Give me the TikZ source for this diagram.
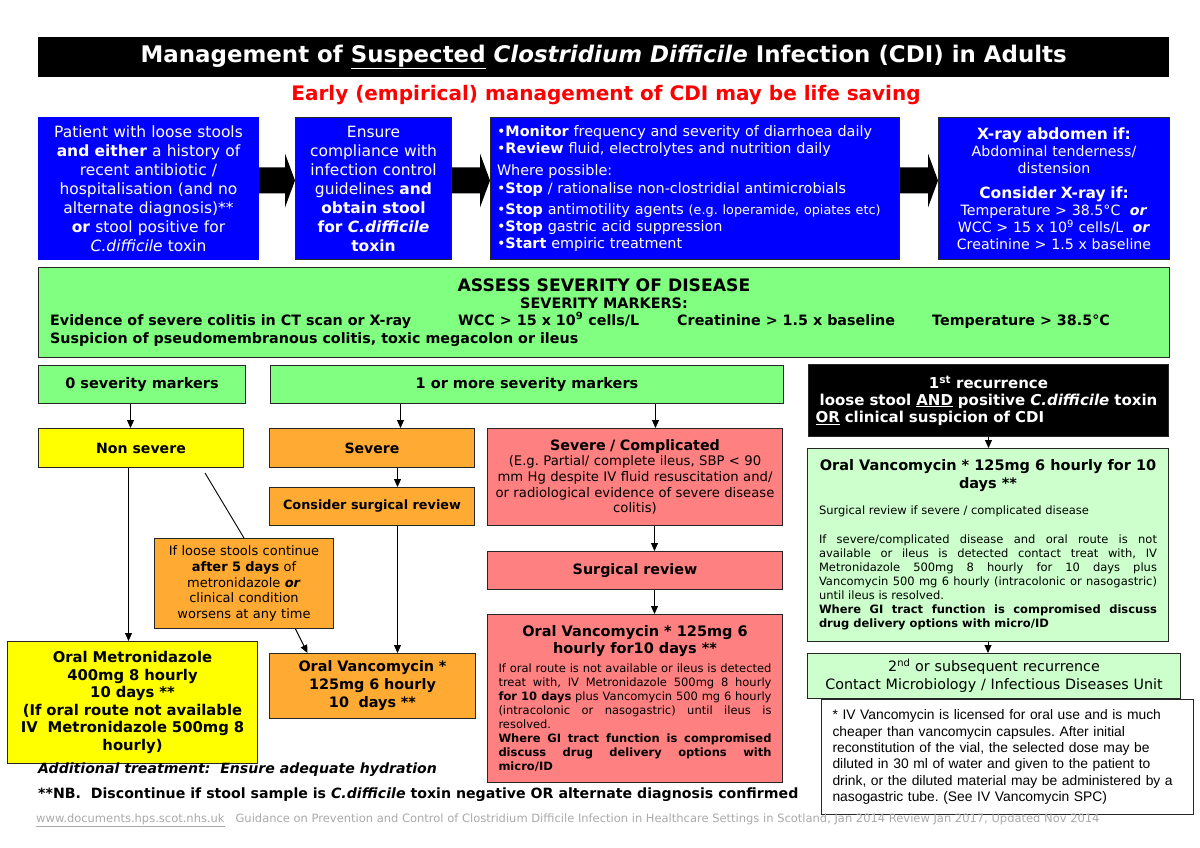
\documentclass[tikz,border=0pt]{standalone}
\usepackage{fontspec}
\setmainfont{DejaVu Sans}
\newfontfamily\arialfont{Liberation Sans}
\usetikzlibrary{arrows.meta}
\definecolor{cdiblue}{RGB}{0,0,255}
\definecolor{cdigreen}{RGB}{128,255,128}
\definecolor{cdipale}{RGB}{204,255,204}
\definecolor{cdiyellow}{RGB}{255,255,0}
\definecolor{cdiorange}{RGB}{255,170,51}
\definecolor{cdipink}{RGB}{255,128,128}
\definecolor{cdired}{RGB}{255,0,0}
\definecolor{cdigrey}{RGB}{170,170,170}
\newcommand\sz[2]{\fontsize{#1}{#2}\selectfont}
\setlength\parindent{0pt}
\frenchspacing

\begin{document}
\begin{tikzpicture}[x=1pt,y=-1pt,
  box/.style={draw=black!85, line width=1pt, anchor=north west, inner sep=0pt, align=center},
  arr/.style={-{Triangle[length=8pt,width=7pt]}, line width=0.9pt},
  fat/.style={fill=black}]
  \useasboundingbox[fill=white] (0,0) rectangle (1200,848);

  \node[fill=black, anchor=north west, minimum width=1131, minimum height=40, inner sep=0pt,
    text=white, font=\sz{22.9}{26}\bfseries] (title) at (38,37)
    {Management of \underline{Suspected} \textit{Clostridium Difficile} Infection (CDI) in Adults};
  \node[text=cdired, font=\sz{20}{24}\bfseries] (early) at (606,95)
    {Early (empirical) management of CDI may be life saving};

  \node[box, draw=cdiblue, fill=cdiblue, text=white, minimum width=220, minimum height=142,
    text width=212, font=\sz{15.5}{19}] (patient) at (38,117)
    {Patient with loose stools\\ \textbf{and either} a history of\\ recent antibiotic /\\
     hospitalisation (and no\\ alternate diagnosis)**\\ \textbf{or} stool positive for\\
     \textit{C.difficile} toxin};
  \node[box, fill=cdiblue, text=white, minimum width=156, minimum height=142,
    text width=150, font=\sz{15.5}{19}] (ensure) at (295,117)
    {Ensure\\ compliance with\\ infection control\\ guidelines \textbf{and}\\
     \textbf{obtain stool}\\ \textbf{for \textit{C.difficile}}\\ \textbf{toxin}};
  \node[box, fill=cdiblue, text=white, minimum width=409, minimum height=142,
    text width=396, align=left, font=\sz{14.4}{17}] (monitor) at (490,117)
    {•\textbf{Monitor} frequency and severity of diarrhoea daily\\
     •\textbf{Review} fluid, electrolytes and nutrition daily\\[5pt]
     Where possible:\\[1pt]
     •\textbf{Stop} / rationalise non-clostridial antimicrobials\\[4pt]
     •\textbf{Stop} antimotility agents {\sz{12.8}{17}(e.g. loperamide, opiates etc)}\\
     •\textbf{Stop} gastric acid suppression\\
     •\textbf{Start} empiric treatment};
  \node[box, fill=cdiblue, text=white, minimum width=231, minimum height=142,
    text width=225, font=\sz{14.2}{17}] (xray) at (938,117)
    {{\sz{15.5}{17}\bfseries X-ray abdomen if:}\\ Abdominal tenderness/\\ distension\\[8pt]
     {\sz{15.5}{17}\bfseries Consider X-ray if:}\\ Temperature > 38.5°C\ \ \textbf{\textit{or}}\\
     WCC > 15 x 10\textsuperscript{9} cells/L\ \ \textbf{\textit{or}}\\ Creatinine > 1.5 x baseline};
  \fill[fat] ([yshift=21]patient.east) -- ([xshift=-10,yshift=21]ensure.west)
    -- ([xshift=-10,yshift=35]ensure.west) -- ([yshift=8]ensure.west)
    -- ([xshift=-10,yshift=-19]ensure.west) -- ([xshift=-10,yshift=-5]ensure.west)
    -- ([yshift=-5]patient.east) -- cycle;
  \fill[fat] ([yshift=21]ensure.east) -- ([xshift=-10,yshift=21]monitor.west)
    -- ([xshift=-10,yshift=35]monitor.west) -- ([yshift=8]monitor.west)
    -- ([xshift=-10,yshift=-19]monitor.west) -- ([xshift=-10,yshift=-5]monitor.west)
    -- ([yshift=-5]ensure.east) -- cycle;
  \fill[fat] ([yshift=21]monitor.east) -- ([xshift=-10,yshift=21]xray.west)
    -- ([xshift=-10,yshift=35]xray.west) -- ([yshift=8]xray.west)
    -- ([xshift=-10,yshift=-19]xray.west) -- ([xshift=-10,yshift=-5]xray.west)
    -- ([yshift=-5]monitor.east) -- cycle;

  \node[box, fill=cdigreen, minimum width=1131, minimum height=90] (assess) at (38,267) {};
  \node[font=\sz{17.2}{19}\bfseries] (assesstitle) at (604,285) {ASSESS SEVERITY OF DISEASE};
  \node[font=\sz{14.4}{17}\bfseries] (markers) at (604,303) {SEVERITY MARKERS:};
  \node[anchor=base west, inner sep=0pt, font=\sz{14.3}{17}\bfseries] (colitis) at (50,325)
    {Evidence of severe colitis in CT scan or X-ray};
  \node[anchor=base west, inner sep=0pt, font=\sz{14.3}{17}\bfseries] (wcc) at (458,325)
    {WCC > 15 x 10\textsuperscript{9} cells/L};
  \node[anchor=base west, inner sep=0pt, font=\sz{14.3}{17}\bfseries] (creat) at (677,325)
    {Creatinine > 1.5 x baseline};
  \node[anchor=base west, inner sep=0pt, font=\sz{14.3}{17}\bfseries] (temp) at (932,325)
    {Temperature > 38.5°C};
  \node[anchor=base west, inner sep=0pt, font=\sz{14.3}{17}\bfseries] (susp) at (50,343)
    {Suspicion of pseudomembranous colitis, toxic megacolon or ileus};

  \node[box, fill=cdigreen, minimum width=207, minimum height=38, font=\sz{14.5}{17}\bfseries]
    (zero) at (38,365) {0 severity markers};
  \node[box, fill=cdigreen, minimum width=513, minimum height=38, font=\sz{14.5}{17}\bfseries]
    (one) at (270,365) {1 or more severity markers};
  \node[box, fill=black, text=white, minimum width=360, minimum height=72, text width=346,
    align=left, font=\sz{15}{17}\bfseries] (recur1) at (808,364)
    {\hfill 1\textsuperscript{st} recurrence\hfill\null\\
     \hfill loose stool \underline{AND} positive \textit{C.difficile} toxin\hfill\null\\
     \underline{OR} clinical suspicion of CDI};

  \node[box, fill=cdiyellow, minimum width=205, minimum height=39, font=\sz{14.1}{18}\bfseries]
    (nonsev) at (38,428) {Non severe};
  \node[box, fill=cdiorange, minimum width=205, minimum height=39, font=\sz{14.1}{18}\bfseries]
    (sev) at (269,428) {Severe};
  \node[box, fill=cdipink, minimum width=295, minimum height=97, text width=285,
    font=\sz{13.2}{15.7}] (sevcomp) at (487,428)
    {{\sz{14.3}{17}\bfseries Severe / Complicated}\\ (E.g. Partial/ complete ileus, SBP < 90\\
     mm Hg despite IV fluid resuscitation and/\\ or radiological evidence of severe disease\\ colitis)};
  \node[box, fill=cdiorange, minimum width=205, minimum height=38, font=\sz{12.8}{17}\bfseries]
    (consider) at (269,487) {Consider surgical review};
  \node[box, fill=cdiorange, minimum width=179, minimum height=90, text width=173,
    font=\sz{13}{15.7}] (ifloose) at (154,538)
    {If loose stools continue\\ \textbf{after 5 days} of\\ metronidazole \textbf{\textit{or}}\\
     clinical condition\\ worsens at any time};
  \node[box, fill=cdipink, minimum width=295, minimum height=38, font=\sz{14.3}{18}\bfseries]
    (surg) at (487,551) {Surgical review};

  \node[box, fill=cdiyellow, minimum width=250, minimum height=122, text width=244,
    font=\sz{14.8}{17.6}\bfseries] (metro) at (7,641)
    {Oral Metronidazole\\ 400mg 8 hourly\\ 10 days **\\ (If oral route not available\\
     IV\ \ Metronidazole 500mg 8\\ hourly)};
  \node[box, fill=cdiorange, minimum width=206, minimum height=65, text width=200,
    font=\sz{14.4}{18}\bfseries] (vancoo) at (269,653)
    {Oral Vancomycin *\\ 125mg 6 hourly\\ 10\ \ days **};
  \node[box, fill=cdipink, minimum width=295, minimum height=168, text width=273,
    align=justify, font=\sz{11.5}{14}] (vancop) at (487,614)
    {{\centering\sz{14.5}{17}\bfseries Oral Vancomycin * 125mg 6\\ hourly for10 days **\par}
     \vspace{5pt}
     If oral route is not available or ileus is detected\linebreak
     treat with, IV Metronidazole 500mg 8 hourly\linebreak
     \textbf{for 10 days} plus Vancomycin 500 mg 6 hourly\linebreak
     (intracolonic or nasogastric) until ileus is\linebreak
     resolved.\par
     \textbf{Where GI tract function is compromised\linebreak
     discuss drug delivery options with\linebreak micro/ID}};

  \node[box, fill=cdipale, minimum width=361, minimum height=193, text width=338,
    align=justify, font=\sz{11.5}{14}] (vancog) at (807,448)
    {{\centering\sz{14.5}{18}\bfseries Oral Vancomycin * 125mg 6 hourly for 10\\ days **\par}
     \vspace{12pt}
     Surgical review if severe / complicated disease\par
     \vspace{15pt}
     If severe/complicated disease and oral route is not\linebreak
     available or ileus is detected contact treat with, IV\linebreak
     Metronidazole 500mg 8 hourly for 10 days plus\linebreak
     Vancomycin 500 mg 6 hourly (intracolonic or nasogastric)\linebreak
     until ileus is resolved.\par
     \textbf{Where GI tract function is compromised discuss\linebreak
     drug delivery options with micro/ID}};
  \node[box, fill=cdipale, minimum width=373, minimum height=45, text width=365,
    font=\sz{14.3}{18}] (recur2) at (807,653)
    {2\textsuperscript{nd} or subsequent recurrence\\ Contact Microbiology / Infectious Diseases Unit};
  \node[box, fill=white, minimum width=372, minimum height=115, text width=350,
    align=left, font=\arialfont\sz{13.85}{16.3}] (note) at (821,699)
    {* IV Vancomycin is licensed for oral use and is much\\
     cheaper than vancomycin capsules. After initial\\
     reconstitution of the vial, the selected dose may be\\
     diluted in 30 ml of water and given to the patient to\\
     drink, or the diluted material may be administered by a\\
     nasogastric tube. (See IV Vancomycin SPC)};

  \coordinate (worse) at (205,473);
  \draw[arr] ([xshift=-11.5]zero.south) -- ([xshift=-10.5]nonsev.north);
  \draw[arr] ([xshift=-126.5]one.south) -- ([xshift=28.5]sev.north);
  \draw[arr] ([xshift=128.5]one.south) -- ([xshift=20.5]sevcomp.north);
  \draw[arr] ([xshift=-12.5]nonsev.south) -- ([xshift=-4]metro.north);
  \draw[line width=0.9pt] (worse) -- (ifloose.north);
  \draw[arr] ([xshift=51.5]ifloose.south) -- ([xshift=-65]vancoo.north);
  \draw[arr] ([xshift=25.5]sev.south) -- ([xshift=25.5]consider.north);
  \draw[arr] ([xshift=25.5]consider.south) -- ([xshift=25]vancoo.north);
  \draw[arr] ([xshift=19.5]sevcomp.south) -- ([xshift=19.5]surg.north);
  \draw[arr] ([xshift=19.5]surg.south) -- ([xshift=19.5]vancop.north);
  \draw[arr] (recur1.south) -- (recur1.south |- vancog.north);
  \draw[arr] (vancog.south) -- (vancog.south |- recur2.north);

  \node[anchor=west, inner sep=0pt, font=\sz{14.1}{17}\bfseries\itshape] (hydration) at (38,770)
    {Additional treatment:\ \ Ensure adequate hydration};
  \node[anchor=west, inner sep=0pt, font=\sz{14.15}{17}\bfseries] (nb) at (38,795)
    {**NB.\ \ Discontinue if stool sample is \textit{C.difficile} toxin negative OR alternate diagnosis confirmed};
  \node[anchor=west, inner sep=0pt, text=cdigrey, font=\sz{11.5}{14}] (source) at (36,820)
    {\underline{www.documents.hps.scot.nhs.uk}\ \ \ Guidance on Prevention and Control of Clostridium Difficile Infection in Healthcare Settings in Scotland, Jan 2014 Review Jan 2017, Updated Nov 2014};
\end{tikzpicture}
\end{document}
